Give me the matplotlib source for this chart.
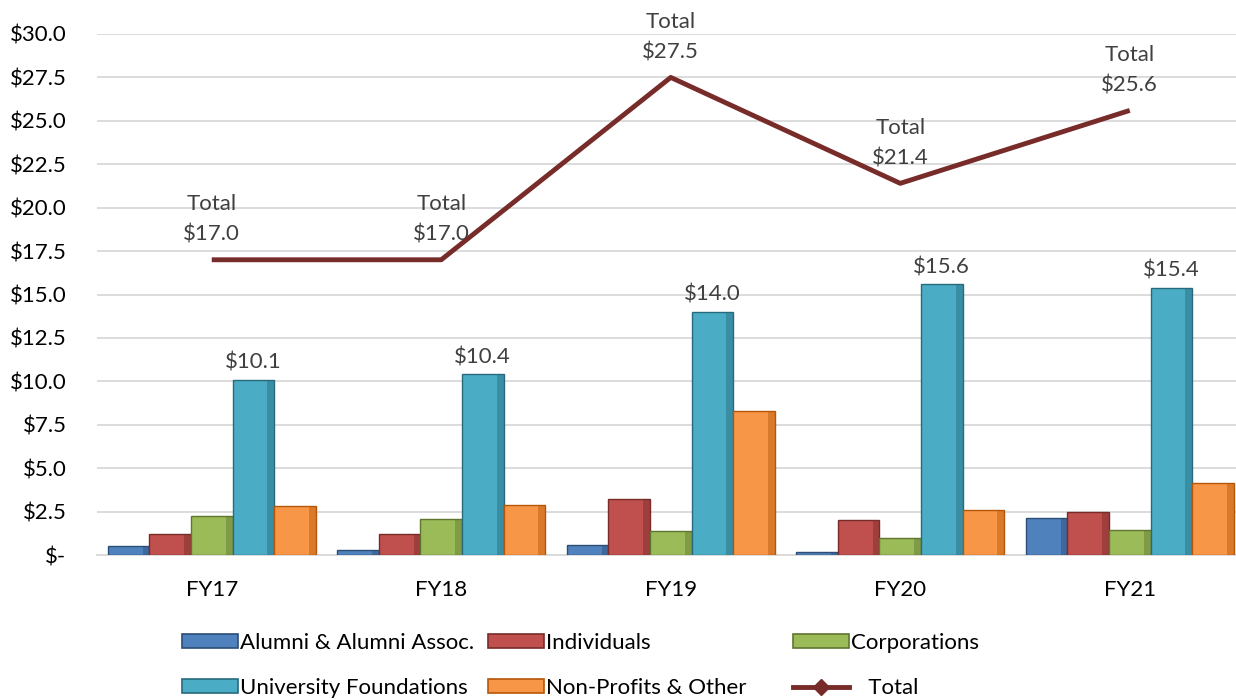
import numpy as np
import matplotlib
matplotlib.use('Agg')
import matplotlib.pyplot as plt
from matplotlib.patches import Patch
from matplotlib.lines import Line2D

plt.rcParams['font.family'] = ['Lato', 'DejaVu Sans']

years = ['FY17', 'FY18', 'FY19', 'FY20', 'FY21']
series = ['Alumni & Alumni Assoc.', 'Individuals', 'Corporations',
          'University Foundations', 'Non-Profits & Other']
alumni = [0.5, 0.3, 0.6, 0.15, 2.15]
individuals = [1.2, 1.2, 3.2, 2.0, 2.45]
corporations = [2.25, 2.1, 1.4, 1.0, 1.45]
univ_found = [10.1, 10.4, 14.0, 15.6, 15.4]
nonprofits = [2.85, 2.9, 8.3, 2.6, 4.15]
totals = [17.0, 17.0, 27.5, 21.4, 25.6]

colors = ['#4F81BD', '#C0504D', '#9BBB59', '#4BACC6', '#F79646']
edges = ['#2C4D75', '#772C2A', '#5F7530', '#276A7C', '#B65708']
line_color = '#772C2A'
fs = 16

fig = plt.figure(figsize=(12.36, 6.99), dpi=100)
ax = fig.add_axes([97 / 1236, 144 / 699, (1236 - 97) / 1236, (555 - 34) / 699])

x = np.arange(len(years))
w = 0.181
data = [alumni, individuals, corporations, univ_found, nonprofits]
for i, vals in enumerate(data):
    pos = x + (i - 2) * w
    ax.bar(pos, vals, w, color=colors[i], edgecolor=edges[i], linewidth=1.0, zorder=3)
    # darker right side to hint at the bevelled look
    ax.bar(pos + w * 0.42, vals, w * 0.16, color=edges[i], alpha=0.45,
           edgecolor='none', zorder=3)

for xi, v in zip(x, univ_found):
    ax.annotate('$%.1f' % v, (xi + w, v), xytext=(0, 5), textcoords='offset points',
                ha='center', va='bottom', fontsize=fs, color='#404040')

ax.plot(x, totals, color=line_color, lw=3.5, zorder=4, solid_capstyle='butt')
for xi, v in zip(x, totals):
    ax.annotate('Total\n$%.1f' % v, (xi, v), xytext=(0, 11), textcoords='offset points',
                ha='center', va='bottom', fontsize=fs, color='#404040',
                linespacing=1.65, annotation_clip=False)

ax.set_ylim(0, 30)
ax.set_xlim(-0.5, -0.5 + (1236 - 97) / 229.5)
ax.set_yticks(np.arange(0, 30.1, 2.5))
ax.set_yticklabels(['$-'] + ['$%.1f' % t for t in np.arange(2.5, 30.1, 2.5)])
ax.set_xticks(x)
ax.set_xticklabels(years)
ax.tick_params(axis='both', length=0, labelsize=fs, colors='black')
ax.tick_params(axis='y', pad=22)
ax.tick_params(axis='x', pad=18)
ax.grid(axis='y', color='#D9D9D9', lw=1.3, zorder=0)
for s in ['top', 'right', 'left']:
    ax.spines[s].set_visible(False)
ax.spines['bottom'].set_color('#D9D9D9')
ax.spines['bottom'].set_linewidth(1.3)
ax.set_axisbelow(True)

patches = [Patch(facecolor=c, edgecolor=e, linewidth=1.2) for c, e in zip(colors, edges)]
tot_handle = Line2D([], [], color=line_color, lw=3.5, marker='D', markersize=8,
                    markerfacecolor=line_color)
legend_cols = [
    ([patches[0], patches[3]], [series[0], series[3]], 182),
    ([patches[1], patches[4]], [series[1], series[4]], 488),
    ([patches[2], tot_handle], [series[2], '   Total'], 793),
]
for hs, ls, px in legend_cols:
    fig.legend(hs, ls, loc='upper left', bbox_to_anchor=(px / 1236, 1 - 633 / 699),
               frameon=False, fontsize=fs, handlelength=2.5, handleheight=0.55,
               handletextpad=0.1, labelspacing=1.12, borderpad=0, borderaxespad=0)

fig.savefig('out.png', dpi=100)
